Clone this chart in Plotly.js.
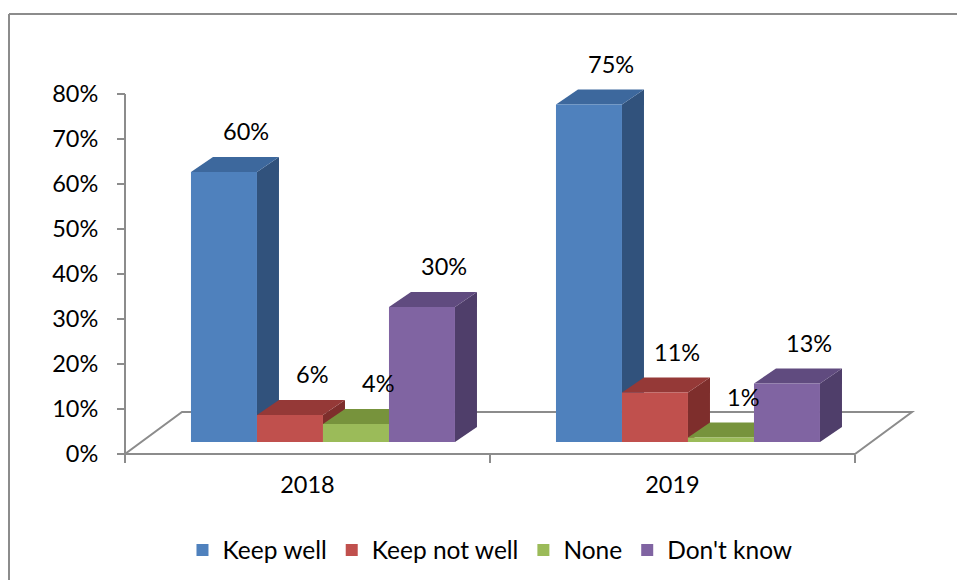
<!DOCTYPE html>
<html>
<head>
<meta charset="utf-8">
<script src="https://cdn.plot.ly/plotly-3.0.1.min.js"></script>
<style>html,body{margin:0;padding:0;background:#fff;}#chart{width:957px;height:580px;}</style>
</head>
<body>
<div id="chart"></div>
<script>
// ---- data ----
const years = ["2018", "2019"];
const seriesNames = ["Keep well", "Keep not well", "None", "Don't know"];
const keepWell = [0.60, 0.75];
const keepNotWell = [0.06, 0.11];
const none = [0.04, 0.01];
const dontKnow = [0.30, 0.13];
const yTicks = [0, 0.1, 0.2, 0.3, 0.4, 0.5, 0.6, 0.7, 0.8];

// ---- styles ----
const frontColors = ["#4F81BD", "#C0504D", "#9BBB59", "#8064A2"];
const topColors = ["#3D689D", "#953937", "#77933C", "#604B7F"];
const sideColors = ["#31527C", "#7E2E2C", "#637D32", "#4F3E6A"];
const FONT = "Lato, 'Open Sans', sans-serif";

const allSeries = [keepWell, keepNotWell, none, dontKnow];

// geometry (axis units)
const W = 957, H = 580;
const pxX = 365;   // px per x unit
const pxY = 450;   // px per 100%
const x0px = 125, y0px = 454;
const xRange = [-0.05, 2.25];
const yRange = [-0.03, 0.9];
const barW = 66 / pxX;
const shift = 0.0424;
const dx = 22 / pxX, dd = 15 / pxY;
const base = 12 / pxY;
const floorDx = 57 / pxX, floorDy = 42 / pxY;

const xDom = [(x0px + xRange[0] * pxX) / W, (x0px + xRange[1] * pxX) / W];
const yDom = [(H - (y0px - yRange[0] * pxY)) / H, (H - (y0px - yRange[1] * pxY)) / H];

const cats = years.map((_, i) => i + 0.5);

const traces = [];
const shapes = [];
const annotations = [];

// floor
shapes.push({
  type: 'path', layer: 'below', xref: 'x', yref: 'y',
  path: `M 0,0 L ${years.length},0 L ${years.length + floorDx},${floorDy} L ${floorDx},${floorDy} Z`,
  line: {color: '#8C8C8C', width: 2}, fillcolor: '#FFFFFF'
});
// value axis line
shapes.push({
  type: 'line', layer: 'below', xref: 'x', yref: 'y',
  x0: 0, x1: 0, y0: 0, y1: yTicks[yTicks.length - 1],
  line: {color: '#8C8C8C', width: 2}
});
// chart border (top & left)
shapes.push({type: 'line', xref: 'paper', yref: 'paper', x0: 9 / W, x1: 1.01, y0: (H - 14) / H, y1: (H - 14) / H, line: {color: '#8C8C8C', width: 2}});
shapes.push({type: 'line', xref: 'paper', yref: 'paper', x0: 9 / W, x1: 9 / W, y0: -0.05, y1: (H - 14) / H, line: {color: '#8C8C8C', width: 2}});

// 3D faces, drawn left to right
years.forEach((yr, c) => {
  seriesNames.forEach((name, s) => {
    const v = allSeries[s][c];
    const xl = cats[c] + shift + (s - 2) * barW;
    const xr = xl + barW;
    const top = base + v;
    shapes.push({
      type: 'path', layer: 'below', xref: 'x', yref: 'y',
      path: `M ${xr},${base} L ${xr},${top} L ${xr + dx},${top + dd} L ${xr + dx},${base + dd} Z`,
      fillcolor: sideColors[s], line: {width: 0}
    });
    shapes.push({
      type: 'path', layer: 'below', xref: 'x', yref: 'y',
      path: `M ${xl},${top} L ${xr},${top} L ${xr + dx},${top + dd} L ${xl + dx},${top + dd} Z`,
      fillcolor: topColors[s], line: {width: 0}
    });
    annotations.push({
      xref: 'x', yref: 'y', x: (xl + xr) / 2, y: top + dd,
      text: Math.round(v * 100) + '%', showarrow: false,
      xshift: 22, yshift: 26, yanchor: 'middle', xanchor: 'center',
      font: {family: FONT, size: 23.5, color: '#000'}
    });
  });
});

// front faces as bars
seriesNames.forEach((name, s) => {
  traces.push({
    type: 'bar', name: name, x: cats, y: allSeries[s],
    base: base, width: barW, offset: shift + (s - 2) * barW,
    legendgroup: 'g' + s,
    marker: {color: frontColors[s], line: {width: 0}},
    hoverinfo: 'skip'
  });
});
// dummy for tick-mark axis
traces.push({type: 'scatter', x: [0], y: [0], xaxis: 'x2', mode: 'markers', marker: {opacity: 0}, showlegend: false, hoverinfo: 'skip'});

const layout = {
  width: W, height: H,
  margin: {l: 0, r: 0, t: 0, b: 0},
  paper_bgcolor: '#FFFFFF', plot_bgcolor: 'rgba(0,0,0,0)',
  barmode: 'overlay',
  showlegend: true,
  font: {family: FONT, color: '#000'},
  xaxis: {
    domain: xDom, range: xRange, anchor: 'free', position: (H - y0px) / H,
    tickvals: cats, ticktext: years, ticks: '', showline: false, showgrid: false, zeroline: false,
    tickfont: {family: FONT, size: 23.5, color: '#000'}, ticklabelstandoff: 14
  },
  xaxis2: {
    domain: xDom, range: xRange, overlaying: 'x', anchor: 'free', position: (H - y0px) / H, side: 'bottom',
    tickvals: [0, 1, 2], ticks: 'outside', ticklen: 8, tickwidth: 2, tickcolor: '#8C8C8C',
    showticklabels: false, showline: false, showgrid: false, zeroline: false
  },
  yaxis: {
    domain: yDom, range: yRange, anchor: 'free', position: x0px / W,
    tickvals: yTicks, tickformat: '.0%', ticks: 'outside', ticklen: 8, tickwidth: 2, tickcolor: '#8C8C8C',
    showline: false, showgrid: false, zeroline: false,
    tickfont: {family: FONT, size: 23.5, color: '#000'}, ticklabelstandoff: 14
  },
  legend: {
    orientation: 'h', x: 0.512, xanchor: 'center', y: 30 / H, yanchor: 'middle',
    traceorder: 'normal', tracegroupgap: 17,
    font: {family: FONT, size: 24.5, color: '#000'}, bgcolor: 'rgba(0,0,0,0)'
  },
  shapes: shapes,
  annotations: annotations
};

Plotly.newPlot('chart', traces, layout, {displayModeBar: false, staticPlot: true});
</script>
</body>
</html>
